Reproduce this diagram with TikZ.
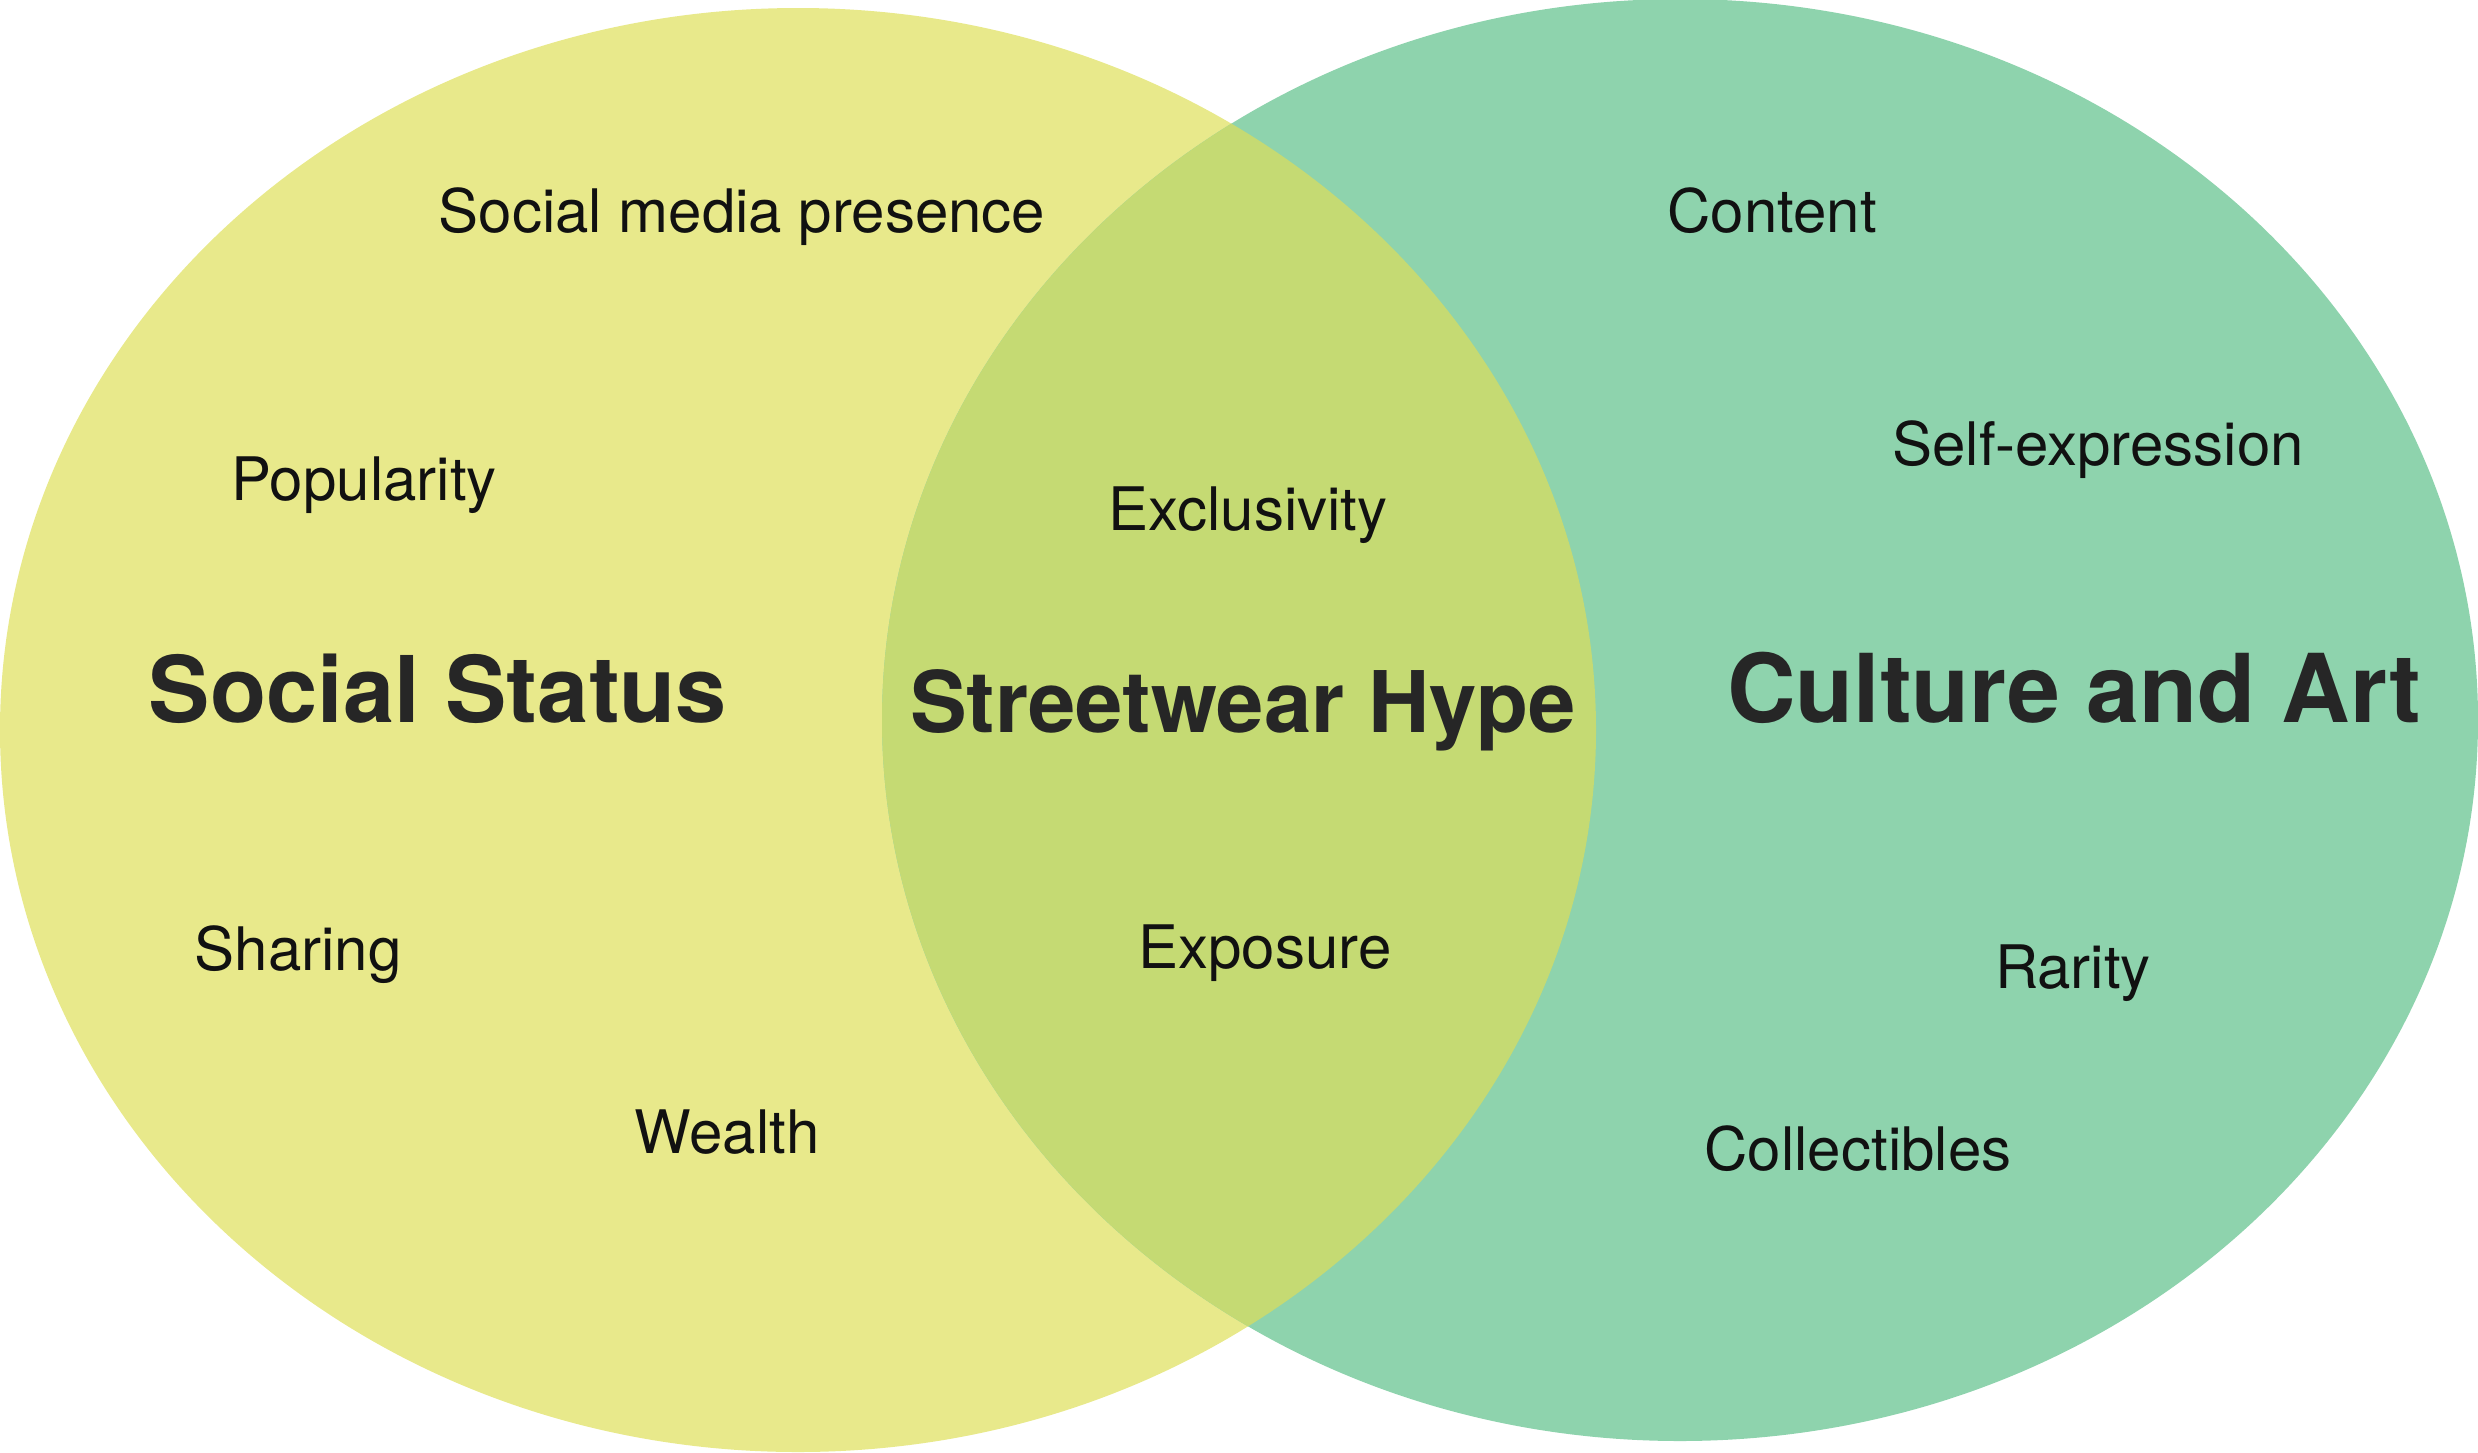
\documentclass[tikz,border=0pt]{standalone}
\usepackage{fontspec}
\setmainfont{TeX Gyre Heros}
\definecolor{leftc}{RGB}{232,233,139}
\definecolor{rightc}{RGB}{142,211,173}
\definecolor{bothc}{RGB}{197,218,115}
\definecolor{headc}{RGB}{38,38,38}
\definecolor{lblc}{RGB}{17,17,17}
\begin{document}
\begin{tikzpicture}[x=1pt,y=-1pt,
  lbl/.style={anchor=base,inner sep=0pt,text=lblc,font=\fontsize{60}{72}\selectfont},
  head/.style={anchor=base,inner sep=0pt,text=headc,font=\fontsize{92}{110}\selectfont\bfseries},
  midhead/.style={anchor=base,inner sep=0pt,text=headc,font=\fontsize{85}{100}\selectfont\bfseries}]
\useasboundingbox (0,0) rectangle (2478,1452);
\fill[leftc] (798,730) ellipse [x radius=798, y radius=722];
\fill[rightc] (1680,720) ellipse [x radius=798, y radius=721];
\begin{scope}
  \clip (798,730) ellipse [x radius=798, y radius=722];
  \fill[bothc] (1680,720) ellipse [x radius=798, y radius=721];
\end{scope}
\node[head] (social) at (438,722) {Social Status};
\node[midhead] (hype) at (1243,732) {Streetwear Hype};
\node[head,font=\fontsize{95}{110}\selectfont\bfseries] (culture) at (2074,722) {Culture and Art};
\node[lbl] (smp) at (742,232) {Social media presence};
\node[lbl] (content) at (1772,232) {Content};
\node[lbl] (pop) at (364,500) {Popularity};
\node[lbl] (self) at (2098,465) {Self-expression};
\node[lbl] (excl) at (1248,530) {Exclusivity};
\node[lbl] (share) at (298,970) {Sharing};
\node[lbl] (expo) at (1265,968) {Exposure};
\node[lbl] (rar) at (2073,988) {Rarity};
\node[lbl] (wealth) at (727,1153) {Wealth};
\node[lbl] (coll) at (1858,1170) {Collectibles};
\end{tikzpicture}
\end{document}
